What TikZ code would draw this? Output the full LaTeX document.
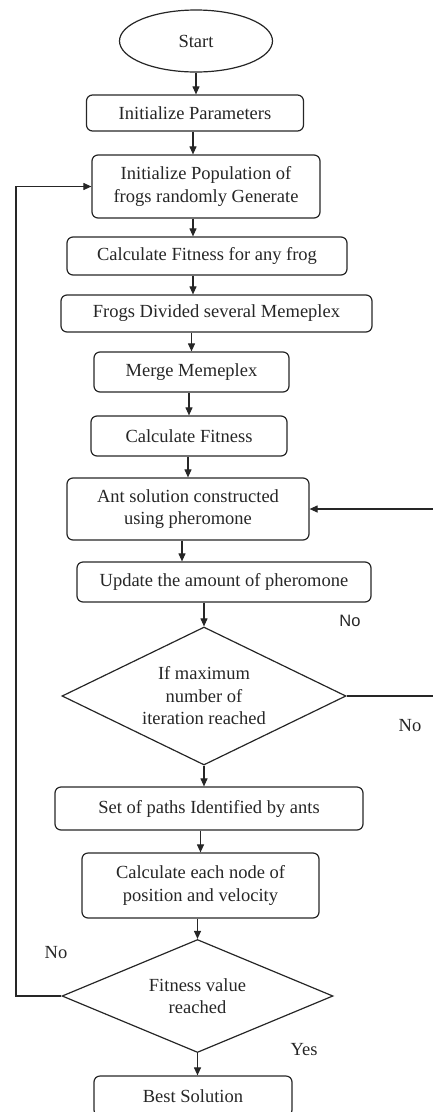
\documentclass[tikz,border=0pt]{standalone}
\usepackage{fontspec}
\setmainfont{Liberation Serif}
\newfontfamily\labsans{Liberation Sans}
\usetikzlibrary{shapes.geometric,arrows.meta}
\tikzset{
  base/.style={draw=black!85, line width=1.2pt, text=black!85, inner sep=0pt, align=center,
    font=\fontsize{18.5}{22.5}\selectfont},
  proc/.style={base, rectangle, rounded corners=6pt},
  term/.style={base, ellipse},
  dec/.style={base, diamond, shape aspect=2},
  arr/.style={draw=black!85, line width=1.1pt, -{Triangle[length=8pt,width=7pt]}},
  lin/.style={draw=black!85, line width=1.1pt},
  lab/.style={text=black!85, inner sep=0pt, font=\fontsize{18.5}{22.5}\selectfont},
}
\begin{document}
\begin{tikzpicture}[x=1pt,y=-1pt]
\useasboundingbox (0,0) rectangle (432,1112);
\node[term, minimum width=153pt, minimum height=62pt] (start) at (196,41) {Start};
\node[proc, minimum width=217pt, minimum height=36pt] (ip) at (195,113) {Initialize Parameters};
\node[proc, minimum width=228pt, minimum height=63pt] (ipop) at (206,186.5) {Initialize Population of\\frogs randomly Generate};
\node[proc, minimum width=280pt, minimum height=38pt] (cfa) at (207,256) {Calculate Fitness for any frog};
\node[proc, minimum width=311pt, minimum height=37pt] (fd) at (216.5,313.5) {Frogs Divided several Memeplex};
\node[proc, minimum width=195pt, minimum height=40pt] (mm) at (191.5,372) {Merge Memeplex};
\node[proc, minimum width=196pt, minimum height=40pt] (cf) at (189,436) {Calculate Fitness};
\node[proc, minimum width=242pt, minimum height=62pt] (ant) at (188,509) {Ant solution constructed\\using pheromone};
\node[proc, minimum width=294pt, minimum height=40pt] (up) at (224,582) {Update the amount of pheromone};
\node[dec, minimum width=284pt, minimum height=138pt] (d1) at (204,696) {If maximum\\number of\\iteration reached};
\node[proc, minimum width=308pt, minimum height=43pt] (set) at (209,808.5) {Set of paths Identified by ants};
\node[proc, minimum width=237pt, minimum height=65pt] (calc) at (200.5,885.5) {Calculate each node of\\position and velocity};
\node[dec, minimum width=271pt, minimum height=113pt] (d2) at (197.5,996) {Fitness value\\reached};
\node[proc, minimum width=198pt, minimum height=40pt] (best) at (193,1096) {Best Solution};

\coordinate (lx) at (16,0);
\coordinate (rx) at (440,0);

\draw[arr] (start.south) -- (start.south |- ip.north);
\draw[arr] ([xshift=-2pt]ip.south) -- ([xshift=-2pt]ip.south |- ipop.north);
\draw[arr] ([xshift=-13pt]ipop.south) -- ([xshift=-13pt]ipop.south |- cfa.north);
\draw[arr] ([xshift=-14pt]cfa.south) -- ([xshift=-14pt]cfa.south |- fd.north);
\draw[arr] (mm.north |- fd.south) -- (mm.north);
\draw[arr] (cf.north |- mm.south) -- (cf.north);
\draw[arr] (ant.north |- cf.south) -- (ant.north);
\draw[arr] ([xshift=-6pt]ant.south) -- ([xshift=-6pt]ant.south |- up.north);
\draw[arr] (d1.north |- up.south) -- (d1.north);
\draw[arr] (d1.south) -- (d1.south |- set.north);
\draw[arr] (calc.north |- set.south) -- (calc.north);
\draw[arr] (d2.north |- calc.south) -- (d2.north);
\draw[arr] (d2.south) -- (d2.south |- best.north);

\draw[arr] (d2.west) -- (d2.west -| lx) -- (lx |- ipop.west) -- (ipop.west);
\draw[arr] (d1.east) -- (d1.east -| rx) -- (rx |- ant.east) -- (ant.east);

\node[lab, font=\labsans\fontsize{16.5}{20}\selectfont] (no1) at (350,621) {No};
\node[lab] (no2) at (410,726) {No};
\node[lab] (no3) at (56,953) {No};
\node[lab] (yes) at (304,1050) {Yes};
\end{tikzpicture}
\end{document}
